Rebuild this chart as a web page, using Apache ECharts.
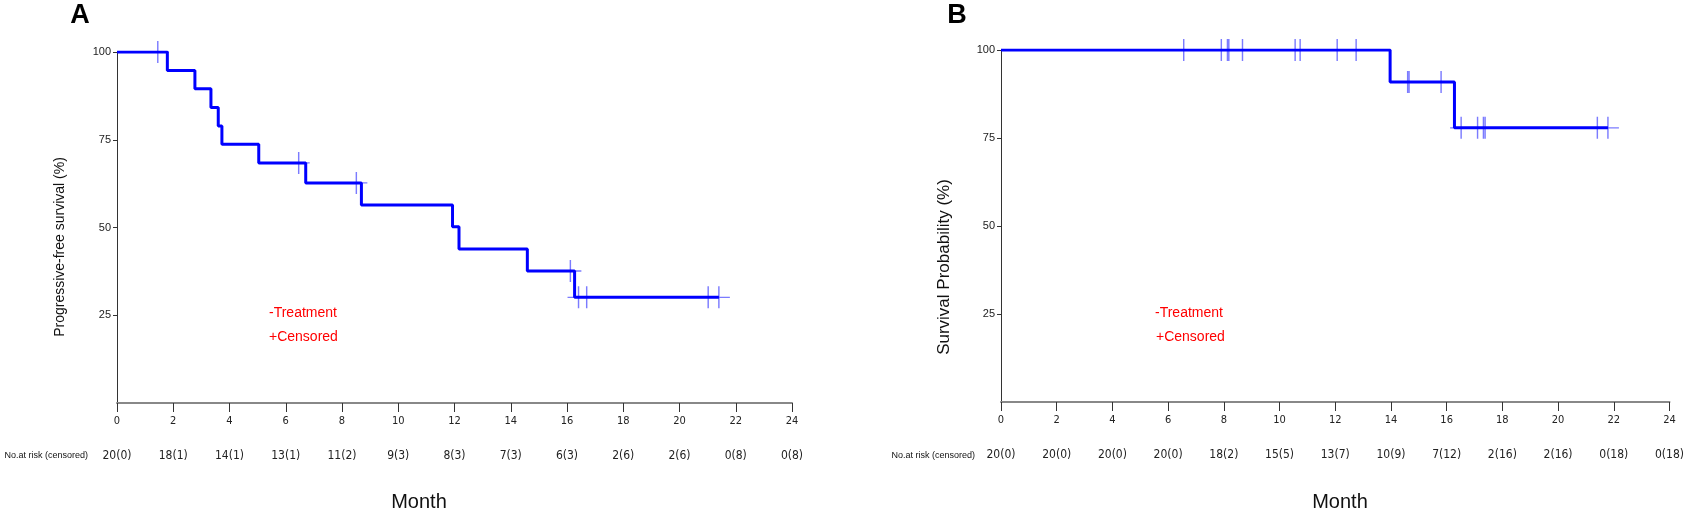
<!DOCTYPE html>
<html>
<head>
<meta charset="utf-8">
<script src="https://cdn.jsdelivr.net/npm/echarts@6/dist/echarts.min.js"></script>
<style>
  html, body { margin: 0; padding: 0; background: #fff; }
  #chart { width: 1687px; height: 509px; }
</style>
</head>
<body>
<div id="chart"></div>
<script>
// x axis ticks (months) and number-at-risk rows
var monthTicks = [0, 2, 4, 6, 8, 10, 12, 14, 16, 18, 20, 22, 24];
var riskA = ['20(0)', '18(1)', '14(1)', '13(1)', '11(2)', '9(3)', '8(3)', '7(3)', '6(3)', '2(6)', '2(6)', '0(8)', '0(8)'];
var riskB = ['20(0)', '20(0)', '20(0)', '20(0)', '18(2)', '15(5)', '13(7)', '10(9)', '7(12)', '2(16)', '2(16)', '0(18)', '0(18)'];

// panel A: progressive-free survival, steps and censored marks
var eventTimeA = [1.79, 2.77, 3.34, 3.60, 3.73, 5.04, 6.71, 8.69, 11.93, 12.16, 14.59, 16.27];
var eventSurvA = [94.7, 89.5, 84.2, 78.9, 73.7, 68.4, 62.7, 56.4, 50.2, 43.9, 37.6, 30.1];
var censorTimeA = [1.45, 6.46, 8.51, 16.12, 16.41, 16.70, 21.02, 21.40];
var censorSurvA = [100, 68.4, 62.7, 37.6, 30.1, 30.1, 30.1, 30.1];

// panel B: survival probability
var eventTimeB = [13.97, 16.28];
var eventSurvB = [90.9, 77.9];
var censorTimeB = [6.56, 7.91, 8.13, 8.18, 8.67, 10.56, 10.74, 12.07, 12.75, 14.60, 14.65, 15.80, 16.52, 17.11, 17.32, 17.38, 21.41, 21.79];
var censorSurvB = [100, 100, 100, 100, 100, 100, 100, 100, 100, 90.9, 90.9, 90.9, 77.9, 77.9, 77.9, 77.9, 77.9, 77.9];

function stepData(times, surv, cTimes) {
    var d = [[0, 100]];
    for (var i = 0; i < times.length; i++) d.push([times[i], surv[i]]);
    // curve runs on to the last censored time
    d.push([cTimes[cTimes.length - 1], surv[surv.length - 1]]);
    return d;
}
function pairs(xs, ys) {
    var d = [];
    for (var i = 0; i < xs.length; i++) d.push([xs[i], ys[i]]);
    return d;
}

var narrow = '"Liberation Sans Narrow", "DejaVu Sans Condensed", Arial, sans-serif';
var sans = '"Liberation Sans", Arial, sans-serif';
var plus = 'path://M-0.65,-10 L0.65,-10 L0.65,10 L-0.65,10 Z M-10,-0.6 L10,-0.6 L10,0.6 L-10,0.6 Z';

function monthAxis(grid) {
    return {
        gridIndex: grid, type: 'value', min: 0, max: 24, interval: 2,
        axisLine: { lineStyle: { color: '#888', width: 2 } },
        axisTick: { length: 9, lineStyle: { color: '#333' } },
        axisLabel: { margin: 13, fontSize: 11, fontFamily: narrow, color: '#222' },
        splitLine: { show: false }
    };
}
function riskAxis(grid, labels) {
    return {
        gridIndex: grid, type: 'value', min: 0, max: 24, interval: 2, position: 'bottom', offset: 35,
        axisLine: { show: false }, axisTick: { show: false }, splitLine: { show: false },
        axisLabel: {
            margin: 12, fontSize: 12, fontFamily: narrow, color: '#222',
            formatter: function (v) { return labels[monthTicks.indexOf(v)]; }
        }
    };
}
function survAxis(grid) {
    return {
        gridIndex: grid, type: 'value', min: 0, max: 100, interval: 25,
        axisLine: { show: true, lineStyle: { color: '#333', width: 1 } },
        axisTick: { show: true, length: 4, lineStyle: { color: '#333' }, customValues: [25, 50, 75, 100] },
        axisLabel: { margin: 6, fontSize: 11, fontFamily: sans, color: '#222', customValues: [25, 50, 75, 100] },
        splitLine: { show: false }
    };
}

var myChart = echarts.init(document.getElementById('chart'));

var option = {
    animation: false,
    backgroundColor: '#fff',
    grid: [
        { left: 117, top: 52, width: 675, height: 351 },
        { left: 1001, top: 50, width: 679, height: 352 }
    ],
    xAxis: [monthAxis(0), riskAxis(0, riskA), monthAxis(1), riskAxis(1, riskB)],
    yAxis: [survAxis(0), survAxis(1)],
    series: [
        {
            type: 'line', xAxisIndex: 0, yAxisIndex: 0, step: 'end', showSymbol: false, z: 3,
            lineStyle: { color: '#0000ff', width: 3 },
            data: stepData(eventTimeA, eventSurvA, censorTimeA)
        },
        {
            type: 'scatter', xAxisIndex: 0, yAxisIndex: 0, symbol: plus, symbolSize: 22, z: 2,
            itemStyle: { color: 'rgba(20,20,255,0.7)' },
            data: pairs(censorTimeA, censorSurvA)
        },
        {
            type: 'line', xAxisIndex: 2, yAxisIndex: 1, step: 'end', showSymbol: false, z: 3,
            lineStyle: { color: '#0000ff', width: 3 },
            data: stepData(eventTimeB, eventSurvB, censorTimeB)
        },
        {
            type: 'scatter', xAxisIndex: 2, yAxisIndex: 1, symbol: plus, symbolSize: 22, z: 2,
            itemStyle: { color: 'rgba(20,20,255,0.7)' },
            data: pairs(censorTimeB, censorSurvB)
        }
    ],
    graphic: [
        { type: 'text', x: 80, y: 16, style: { text: 'A', font: 'bold 27px ' + sans, fill: '#000', align: 'center', verticalAlign: 'middle' } },
        { type: 'text', x: 957, y: 16, style: { text: 'B', font: 'bold 27px ' + sans, fill: '#000', align: 'center', verticalAlign: 'middle' } },
        { type: 'text', x: 60, y: 247, rotation: Math.PI / 2, style: { text: 'Progressive-free survival (%)', font: '14px ' + sans, fill: '#111', align: 'center', verticalAlign: 'middle' } },
        { type: 'text', x: 944, y: 267, rotation: Math.PI / 2, style: { text: 'Survival Probability (%)', font: '17px ' + sans, fill: '#111', align: 'center', verticalAlign: 'middle' } },
        { type: 'text', x: 269, y: 313, style: { text: '-Treatment', font: '14px ' + sans, fill: '#ff0000', align: 'left', verticalAlign: 'middle' } },
        { type: 'text', x: 269, y: 337, style: { text: '+Censored', font: '14px ' + sans, fill: '#ff0000', align: 'left', verticalAlign: 'middle' } },
        { type: 'text', x: 1155, y: 313, style: { text: '-Treatment', font: '14px ' + sans, fill: '#ff0000', align: 'left', verticalAlign: 'middle' } },
        { type: 'text', x: 1156, y: 337, style: { text: '+Censored', font: '14px ' + sans, fill: '#ff0000', align: 'left', verticalAlign: 'middle' } },
        { type: 'text', x: 88, y: 456, style: { text: 'No.at risk (censored)', font: '9px ' + sans, fill: '#111', align: 'right', verticalAlign: 'middle' } },
        { type: 'text', x: 975, y: 456, style: { text: 'No.at risk (censored)', font: '9px ' + sans, fill: '#111', align: 'right', verticalAlign: 'middle' } },
        { type: 'text', x: 419, y: 502, style: { text: 'Month', font: '20px ' + sans, fill: '#111', align: 'center', verticalAlign: 'middle' } },
        { type: 'text', x: 1340, y: 502, style: { text: 'Month', font: '20px ' + sans, fill: '#111', align: 'center', verticalAlign: 'middle' } }
    ]
};

myChart.setOption(option);
</script>
</body>
</html>
